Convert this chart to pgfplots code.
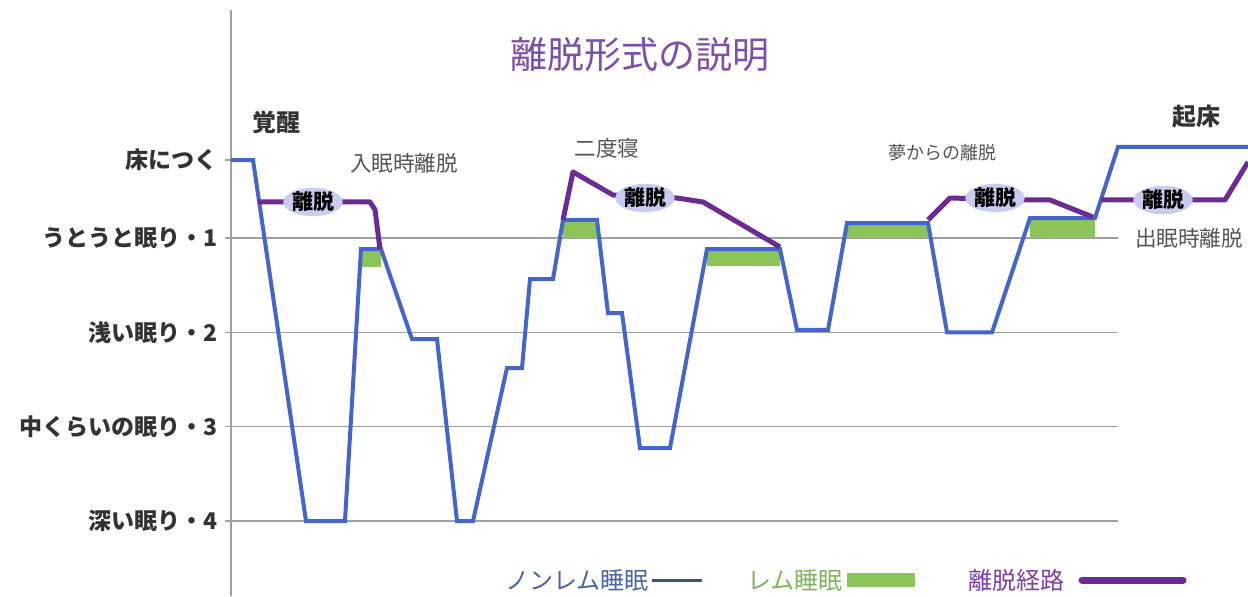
\documentclass[border=0pt]{standalone}
\usepackage{pgfplots}
\pgfplotsset{compat=1.18}
\usepackage{fontspec}
\usetikzlibrary{shapes.geometric}
\setmainfont{Noto Sans CJK JP}

\definecolor{nremblue}{HTML}{4466CC}
\definecolor{remgreen}{HTML}{8DC458}
\definecolor{exitpurple}{HTML}{6B2C91}
\definecolor{bubble}{HTML}{C9CBEF}
\definecolor{gridgray}{HTML}{A0A0A0}
\definecolor{titlepurple}{HTML}{7D4FA8}
\definecolor{labgray}{HTML}{333333}
\definecolor{notegray}{HTML}{555555}
\definecolor{legblue}{HTML}{4A63A8}
\definecolor{legline}{HTML}{35557F}
\definecolor{leggreen}{HTML}{7DB55A}
\definecolor{legpurple}{HTML}{7B3FA5}

% x is measured along the time axis, y in sleep depth (1..4)
\begin{document}
\begin{tikzpicture}
\path[use as bounding box] (0,0) rectangle (624pt,298pt);
\begin{axis}[
    at={(115.5pt,0pt)}, anchor=south west,
    scale only axis, width=508.5pt, height=293pt,
    xmin=231, xmax=1248, ymin=-1.417, ymax=4.795,
    y dir=reverse,
    axis x line=none, axis y line*=left,
    y axis line style={-, gridgray, line width=0.9pt},
    ytick={0.173,1,2,3,4},
    yticklabels={床につく,うとうと眠り・1,浅い眠り・2,中くらいの眠り・3,深い眠り・4},
    yticklabel style={font=\bfseries\fontsize{11.5}{12}\selectfont, text=labgray},
    tick align=outside, major tick length=3pt,
    tick style={gridgray, line width=0.6pt},
    clip=false,
  ]
  % grid lines
  \addplot[gridgray, line width=0.7pt] coordinates {(231,1) (1118,1)};
  \addplot[gridgray, line width=0.7pt] coordinates {(231,2) (1118,2)};
  \addplot[gridgray, line width=0.7pt] coordinates {(231,3) (1118,3)};
  \addplot[gridgray, line width=0.7pt] coordinates {(231,4) (1118,4)};

  % REM blocks
  \addplot[fill=remgreen, draw=none] coordinates {(362,1.117) (381,1.117) (381,1.307) (362,1.307)};
  \addplot[fill=remgreen, draw=none] coordinates {(563,0.809) (597,0.809) (597,1.0) (563,1.0)};
  \addplot[fill=remgreen, draw=none] coordinates {(707,1.117) (780,1.117) (780,1.297) (707,1.297)};
  \addplot[fill=remgreen, draw=none] coordinates {(847,0.841) (928,0.841) (928,1.0) (847,1.0)};
  \addplot[fill=remgreen, draw=none] coordinates {(1030,0.788) (1095,0.788) (1095,1.0) (1030,1.0)};

  % non-REM hypnogram
  \addplot[nremblue, line width=2pt] coordinates {
    (231,0.173) (253,0.173) (306,4.0) (345,4.0) (361,1.117) (381,1.117)
    (412,2.071) (437,2.071) (457,4.0) (473,4.0) (507,2.378) (522,2.378)
    (530,1.435) (553,1.435) (563,0.809) (597,0.809) (608,1.795) (622,1.795)
    (640,3.226) (670,3.226) (707,1.117) (780,1.117) (797,1.975) (828,1.975)
    (847,0.841) (928,0.841) (947,2.0) (992,2.0) (1030,0.788) (1095,0.788)
    (1118,0.035) (1248,0.035)
  };

  % exit paths
  \addplot[exitpurple, line width=2.5pt, line join=round] coordinates {
    (258,0.618) (370,0.618) (375,0.70) (380,1.117)};
  \addplot[exitpurple, line width=2.5pt, line join=round] coordinates {
    (563,0.809) (573,0.30) (613,0.544) (645,0.57) (677,0.576) (703,0.618) (780,1.095)};
  \addplot[exitpurple, line width=2.5pt, line join=round] coordinates {
    (928,0.809) (950,0.576) (1027,0.597) (1050,0.597) (1093,0.778)};
  \addplot[exitpurple, line width=2.5pt, line join=round] coordinates {
    (1101,0.597) (1225,0.597) (1248,0.194)};

  % bubbles
  \foreach \bx/\by in {313/0.618, 645/0.576, 995/0.576, 1163/0.597}{
    \edef\tmp{\noexpand\node[ellipse, fill=bubble, minimum width=29pt, minimum height=11.5pt,
      inner sep=0pt, font=\noexpand\bfseries\noexpand\fontsize{10.5}{11}\noexpand\selectfont]
      at (axis cs:\bx,\by) {離脱};}\tmp
  }

  % texts
  \node[text=titlepurple, font=\fontsize{18.5}{20}\selectfont] at (axis cs:640,-0.94) {離脱形式の説明};
  \node[text=labgray, font=\bfseries\fontsize{12}{13}\selectfont] at (axis cs:276,-0.23) {覚醒};
  \node[text=labgray, font=\bfseries\fontsize{12}{13}\selectfont] at (axis cs:1196,-0.283) {起床};
  \node[text=notegray, font=\fontsize{10.8}{12}\selectfont] at (axis cs:404,0.205) {入眠時離脱};
  \node[text=notegray, font=\fontsize{10.8}{12}\selectfont] at (axis cs:607,0.046) {二度寝};
  \node[text=notegray, font=\fontsize{9}{10}\selectfont] at (axis cs:942,0.099) {夢からの離脱};
  \node[text=notegray, font=\fontsize{10.8}{12}\selectfont] at (axis cs:1189,1.0) {出眠時離脱};

  % legend
  \node[anchor=west, inner sep=0pt, text=legblue, font=\fontsize{12}{13}\selectfont] at (axis cs:505,4.626) {ノンレム睡眠};
  \draw[legline, line width=1.5pt] (axis cs:652,4.626) -- (axis cs:702,4.626);
  \node[anchor=west, inner sep=0pt, text=leggreen, font=\fontsize{12}{13}\selectfont] at (axis cs:747,4.626) {レム睡眠};
  \fill[remgreen] (axis cs:847,4.55) rectangle (axis cs:915,4.70);
  \node[anchor=west, inner sep=0pt, text=legpurple, font=\fontsize{12}{13}\selectfont] at (axis cs:968,4.626) {離脱経路};
  \draw[exitpurple, line width=3.5pt, line cap=round] (axis cs:1082,4.626) -- (axis cs:1183,4.626);
\end{axis}
\end{tikzpicture}
\end{document}
